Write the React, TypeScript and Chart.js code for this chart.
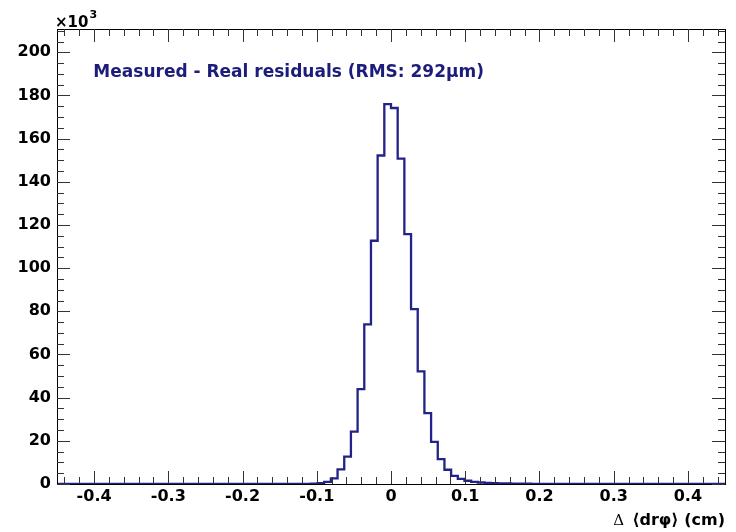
import React, { useEffect, useRef } from 'react';
import { Chart, registerables } from 'chart.js';

Chart.register(...registerables);

// Histogram binning (100 bins from -0.45 to 0.45 cm)
const X_MIN = -0.45;
const X_MAX = 0.45;
const BIN_WIDTH = 0.009;
const Y_MAX = 210.8; // ×10^3 entries

// Bin contents in units of 10^3 entries, bins 0..99
const binCounts: number[] = [
  0, 0, 0, 0, 0, 0, 0, 0, 0, 0,
  0, 0, 0, 0, 0, 0, 0, 0, 0, 0,
  0, 0, 0, 0, 0, 0, 0, 0, 0, 0,
  0, 0, 0, 0, 0, 0, 0.05, 0.1, 0.2, 0.4,
  1.0, 2.6, 6.8, 12.7, 24.3, 44.0, 74.0, 112.7, 152.2, 176.0,
  174.2, 150.7, 115.8, 81.0, 52.2, 32.8, 19.5, 11.5, 6.6, 3.8,
  2.4, 1.5, 1.0, 0.7, 0.5, 0.4, 0.3, 0.25, 0.2, 0.15,
  0.12, 0.1, 0.08, 0.06, 0.05, 0.04, 0, 0, 0, 0,
  0, 0, 0, 0, 0, 0, 0, 0, 0, 0,
  0, 0, 0, 0, 0, 0, 0, 0, 0, 0,
];

const xTickValues = [-0.4, -0.3, -0.2, -0.1, 0, 0.1, 0.2, 0.3, 0.4];
const xMinorTickValues = [
  -0.44, -0.42, -0.38, -0.36, -0.34, -0.32, -0.28, -0.26, -0.24, -0.22,
  -0.18, -0.16, -0.14, -0.12, -0.08, -0.06, -0.04, -0.02, 0.02, 0.04,
  0.06, 0.08, 0.12, 0.14, 0.16, 0.18, 0.22, 0.24, 0.26, 0.28,
  0.32, 0.34, 0.36, 0.38, 0.42, 0.44,
];
const yTickValues = [0, 20, 40, 60, 80, 100, 120, 140, 160, 180, 200];
const yMinorTickValues = [
  5, 10, 15, 25, 30, 35, 45, 50, 55, 65, 70, 75, 85, 90, 95, 105, 110, 115,
  125, 130, 135, 145, 150, 155, 165, 170, 175, 185, 190, 195, 205, 210,
];

const titleText = 'Measured - Real residuals (RMS: 292\u00b5m)';
const xAxisTitleSymbol = '\u0394';
const xAxisTitleRest = '\u27e8dr\u03c6\u27e9 (cm)';

const LINE_COLOR = 'rgb(34,34,136)';
const TITLE_COLOR = 'rgb(28,28,122)';
const FONT = "'DejaVu Sans', 'Liberation Sans', sans-serif";

const rootFramePlugin = {
  id: 'rootFrame',
  afterDraw(chart: any) {
    const { ctx, chartArea } = chart;
    const { left, right, top, bottom } = chartArea;
    const xs = chart.scales.x;
    const ys = chart.scales.y;
    ctx.save();
    ctx.strokeStyle = '#000';
    ctx.lineWidth = 1;
    ctx.strokeRect(Math.round(left) + 0.5, Math.round(top) + 0.5, Math.round(right - left), Math.round(bottom - top));

    const MAJ = 13;
    const MIN = 7;
    ctx.strokeStyle = '#333';
    ctx.beginPath();
    const xTick = (v: number, len: number) => {
      const px = Math.round(xs.getPixelForValue(v)) + 0.5;
      ctx.moveTo(px, bottom);
      ctx.lineTo(px, bottom - len);
      ctx.moveTo(px, top);
      ctx.lineTo(px, top + len);
    };
    const yTick = (v: number, len: number) => {
      const py = Math.round(ys.getPixelForValue(v)) + 0.5;
      ctx.moveTo(left, py);
      ctx.lineTo(left + len, py);
      ctx.moveTo(right, py);
      ctx.lineTo(right - len, py);
    };
    xTickValues.forEach((v) => xTick(v, MAJ));
    xMinorTickValues.forEach((v) => xTick(v, MIN));
    yTickValues.forEach((v) => yTick(v, MAJ));
    yMinorTickValues.forEach((v) => yTick(v, MIN));
    ctx.stroke();

    // ×10^3 multiplier
    ctx.fillStyle = '#000';
    ctx.textBaseline = 'alphabetic';
    ctx.textAlign = 'left';
    ctx.font = `bold 15px ${FONT}`;
    ctx.fillText('\u00d710', left - 2, top - 2);
    const w = ctx.measureText('\u00d710').width;
    ctx.font = `bold 11px ${FONT}`;
    ctx.fillText('3', left - 2 + w + 1, top - 11);

    // in-plot title
    ctx.fillStyle = TITLE_COLOR;
    ctx.font = `bold 17px ${FONT}`;
    ctx.textBaseline = 'middle';
    ctx.fillText(titleText, xs.getPixelForValue(-0.401), 73);

    // x axis title
    ctx.fillStyle = '#000';
    ctx.font = `bold 16px ${FONT}`;
    ctx.textAlign = 'right';
    ctx.textBaseline = 'middle';
    ctx.fillText(xAxisTitleRest, right, 521);
    const restW = ctx.measureText(xAxisTitleRest).width;
    ctx.font = `15px 'DejaVu Serif', serif`;
    ctx.fillText(xAxisTitleSymbol, right - restW - 8, 521);
    ctx.restore();
  },
};

export default function App() {
  const canvasRef = useRef<HTMLCanvasElement | null>(null);

  useEffect(() => {
    if (!canvasRef.current) return;
    const points = binCounts.map((v, i) => ({ x: X_MIN + i * BIN_WIDTH, y: v }));
    points.push({ x: X_MAX, y: binCounts[binCounts.length - 1] });

    const tickFont = { family: FONT, weight: 'bold' as const, size: 16 };

    const chart = new Chart(canvasRef.current, {
      type: 'line',
      data: {
        datasets: [
          {
            data: points,
            stepped: true,
            borderColor: LINE_COLOR,
            borderWidth: 2.3,
            pointRadius: 0,
            fill: false,
            tension: 0,
          },
        ],
      },
      options: {
        animation: false,
        responsive: false,
        maintainAspectRatio: false,
        layout: { padding: { left: 0, right: 11, top: 29, bottom: 0 } },
        plugins: {
          legend: { display: false },
          tooltip: { enabled: false },
          title: { display: false },
        },
        scales: {
          x: {
            type: 'linear',
            min: X_MIN,
            max: X_MAX,
            grid: { display: false, drawTicks: false },
            border: { display: false },
            afterBuildTicks: (s: any) => {
              s.ticks = xTickValues.map((v) => ({ value: v }));
            },
            afterFit: (s: any) => {
              s.height = 48;
            },
            ticks: {
              font: tickFont,
              color: '#000',
              padding: 3,
              maxRotation: 0,
              autoSkip: false,
              callback: (v: any) => (Math.abs(Number(v)) < 1e-9 ? '0' : Number(v).toFixed(1)),
            },
          },
          y: {
            type: 'linear',
            min: 0,
            max: Y_MAX,
            grid: { display: false, drawTicks: false },
            border: { display: false },
            afterBuildTicks: (s: any) => {
              s.ticks = yTickValues.map((v) => ({ value: v }));
            },
            afterFit: (s: any) => {
              s.width = 57;
            },
            ticks: {
              font: tickFont,
              color: '#000',
              padding: 6,
              autoSkip: false,
              callback: (v: any) => String(Math.round(Number(v))),
            },
          },
        },
      },
      plugins: [rootFramePlugin],
    });
    return () => chart.destroy();
  }, []);

  return (
    <div style={{ position: 'fixed', left: 0, top: 0, width: 736, height: 532, background: '#fff' }}>
      <canvas ref={canvasRef} width={736} height={532} style={{ width: 736, height: 532 }} />
    </div>
  );
}
